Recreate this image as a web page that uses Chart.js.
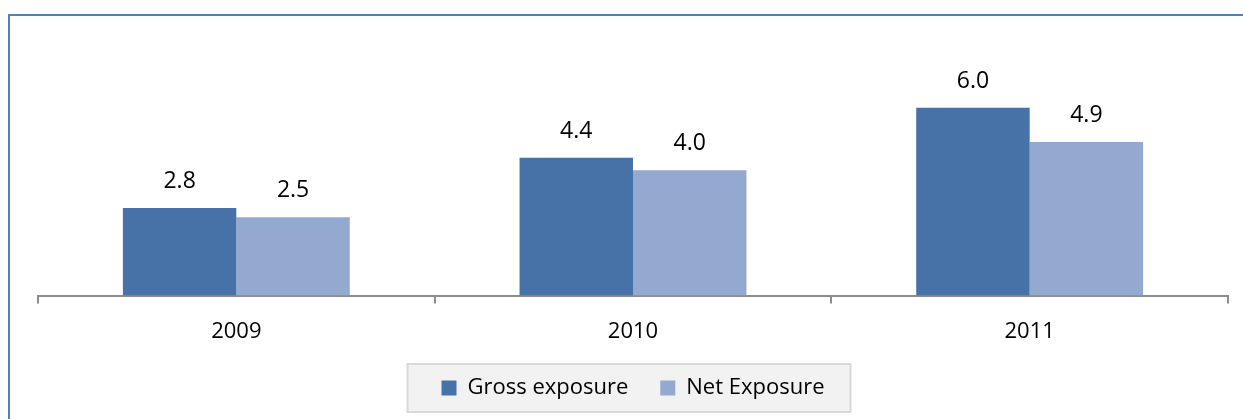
<!DOCTYPE html>
<html>
<head>
<meta charset="utf-8">
<script src="https://cdn.jsdelivr.net/npm/chart.js@4.4.1/dist/chart.umd.min.js"></script>
<style>
    body { margin: 0; background: #ffffff; }
    #wrap { position: relative; width: 1243px; height: 419px; overflow: hidden; }
    #frame
    {
        position: absolute; left: 8px; top: 14px; width: 1300px; height: 500px;
        border-top: 2px solid #4f81bd; border-left: 2px solid #4f81bd;
    }
    canvas { position: absolute; left: 0; top: 0; }
</style>
</head>
<body>
<div id="wrap">
    <div id="frame"></div>
    <canvas id="exposureChart" width="1243" height="419"></canvas>
</div>
<script>
const years = ['2009', '2010', '2011'];
const grossExposure = [2.8, 4.4, 6.0];
const netExposure = [2.5, 4.0, 4.9];

const FONT = '"Open Sans", "Noto Sans", sans-serif';

// values written above each bar
const valueLabels =
{
    id: 'valueLabels',
    afterDatasetsDraw(chart)
    {
        const ctx = chart.ctx;
        ctx.save();
        ctx.font = '23px ' + FONT;
        ctx.fillStyle = '#000000';
        ctx.textAlign = 'center';
        ctx.textBaseline = 'alphabetic';
        chart.data.datasets.forEach((ds, i) =>
        {
            chart.getDatasetMeta(i).data.forEach((bar, j) =>
            {
                ctx.fillText(ds.data[j].toFixed(1), bar.x, bar.y - 20);
            });
        });
        ctx.restore();
    }
};

// grey box behind the legend
const legendBox =
{
    id: 'legendBox',
    beforeDraw(chart)
    {
        const boxes = chart.legend.legendHitBoxes;
        if (!boxes || !boxes.length) return;
        let minX = Infinity, maxX = -Infinity, minY = Infinity, maxY = -Infinity;
        boxes.forEach(b =>
        {
            minX = Math.min(minX, b.left);
            maxX = Math.max(maxX, b.left + b.width);
            minY = Math.min(minY, b.top);
            maxY = Math.max(maxY, b.top + b.height);
        });
        const ctx = chart.ctx;
        ctx.save();
        ctx.fillStyle = '#f2f2f2';
        ctx.strokeStyle = '#d9d9d9';
        ctx.lineWidth = 2;
        const x = minX - 34, y = minY - 13;
        const w = (maxX - minX) + 60, h = (maxY - minY) + 26;
        ctx.fillRect(x, y, w, h);
        ctx.strokeRect(x, y, w, h);
        ctx.restore();
    }
};

const ctx = document.getElementById('exposureChart').getContext('2d');
new Chart(ctx, {
    type: 'bar',
    data:
    {
        labels: years,
        datasets:
        [{
            label: 'Gross exposure',
            data: grossExposure,
            backgroundColor: '#4672a7',
            borderWidth: 0
        },
        {
            label: 'Net Exposure',
            data: netExposure,
            backgroundColor: '#93a9cf',
            borderWidth: 0
        }]
    },
    options:
    {
        responsive: false,
        animation: false,
        layout: { padding: { left: 38, right: 15, top: 45, bottom: 10 } },
        datasets: { bar: { categoryPercentage: 0.572, barPercentage: 1.0 } },
        plugins:
        {
            legend:
            {
                position: 'bottom',
                labels:
                {
                    boxWidth: 15,
                    boxHeight: 15,
                    padding: 32,
                    color: '#000000',
                    font: { family: FONT, size: 22 }
                }
            },
            tooltip: { enabled: false }
        },
        scales:
        {
            x:
            {
                grid:
                {
                    drawOnChartArea: false,
                    drawTicks: true,
                    tickLength: 8,
                    color: '#8c8c8c',
                    lineWidth: 2
                },
                border: { color: '#8c8c8c', width: 2 },
                ticks:
                {
                    padding: 15,
                    color: '#000000',
                    font: { family: FONT, size: 22 }
                },
                afterFit(axis)
                {
                    axis.height -= 15;
                }
            },
            y:
            {
                display: false,
                min: 0,
                max: 8
            }
        }
    },
    plugins: [valueLabels, legendBox]
});
</script>
</body>
</html>
